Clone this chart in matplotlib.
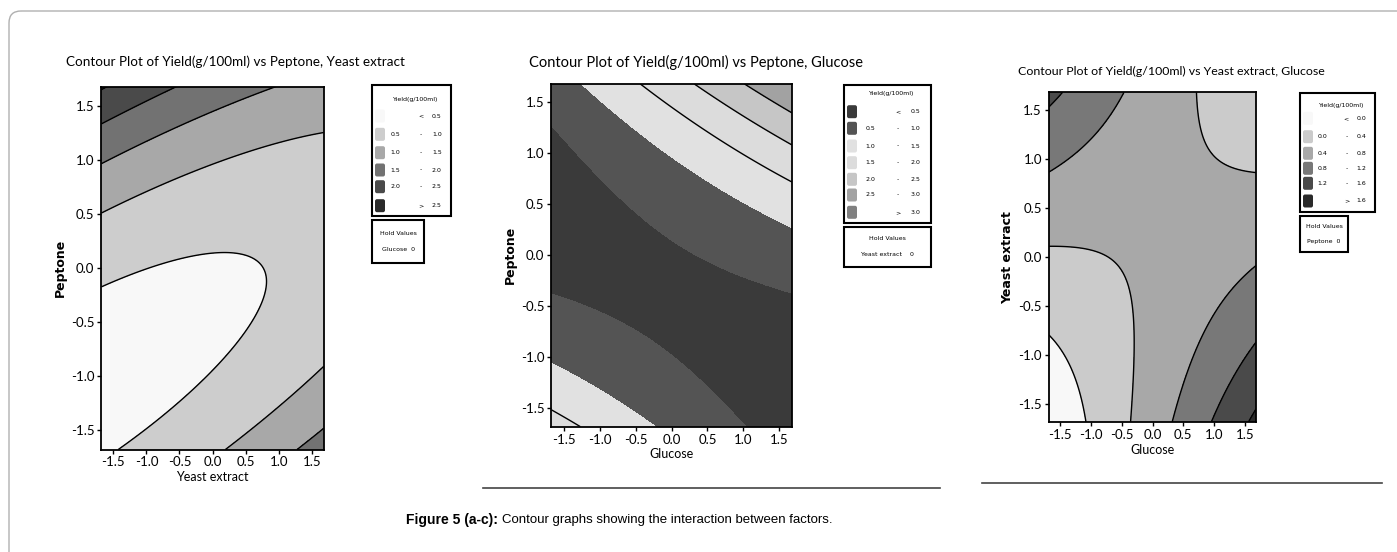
import numpy as np
import matplotlib
matplotlib.use("Agg")
from matplotlib import pyplot as plt
from matplotlib.patches import FancyBboxPatch, Rectangle

plt.rcParams['axes.unicode_minus'] = False
NARROW = ['Lato', 'DejaVu Sans']
SMALL = 'DejaVu Sans'

W, H = 1397, 552
LIM = 1.68
ticks = [-1.5, -1.0, -0.5, 0.0, 0.5, 1.0, 1.5]

# fitted second order model: b0, b1 (x), b2 (y), b11 (x^2), b22 (y^2), b12 (xy)
a_coef = [0.4584, 0.0110, 0.2578, 0.0565, 0.3185, -0.2186]   # x = yeast extract, y = peptone
b_coef = [0.4543, 0.1212, 0.2625, 0.0347, 0.3151, 0.3247]    # x = glucose, y = peptone
c_coef = [0.4738, 0.1232, 0.0076, 0.0282, 0.0520, -0.2801]   # x = glucose, y = yeast extract

a_levels = [0.5, 1.0, 1.5, 2.0, 2.5]
a_colors = ['#f8f8f8', '#cdcdcd', '#a8a8a8', '#727272', '#4a4a4a', '#2a2a2a']
b_levels = [0.5, 1.0, 1.5, 2.0, 2.5, 3.0]
b_colors = ['#3a3a3a', '#545454', '#e1e1e1', '#dcdcdc', '#c6c6c6', '#a2a2a2', '#808080']
c_levels = [0.0, 0.4, 0.8, 1.2, 1.6]
c_colors = ['#f8f8f8', '#cbcbcb', '#a8a8a8', '#787878', '#4a4a4a', '#2a2a2a']


def surface(c, X, Y):
    return c[0] + c[1] * X + c[2] * Y + c[3] * X * X + c[4] * Y * Y + c[5] * X * Y


def rect(l, t, r, b):
    return [l / W, 1 - b / H, (r - l) / W, (b - t) / H]


def panel(box, coefs, levels, colors, line_levels, xlabel, ylabel):
    ax = fig.add_axes(rect(*box))
    g = np.linspace(-LIM, LIM, 300)
    X, Y = np.meshgrid(g, g)
    Z = surface(coefs, X, Y)
    ax.contourf(X, Y, Z, levels=[-100] + levels + [100], colors=colors)
    ax.contour(X, Y, Z, levels=line_levels, colors='black', linewidths=1.0)
    ax.set_xlim(-LIM, LIM)
    ax.set_ylim(-LIM, LIM)
    ax.set_xticks(ticks)
    ax.set_yticks(ticks)
    ax.set_xticklabels(['%.1f' % t for t in ticks], family=NARROW, fontsize=9.5)
    ax.set_yticklabels(['%.1f' % t for t in ticks], family=NARROW, fontsize=9.5)
    ax.tick_params(direction='out', length=3, width=1, pad=2)
    for s in ax.spines.values():
        s.set_linewidth(1.3)
    ax.set_xlabel(xlabel, family=NARROW, fontsize=9, labelpad=2)
    ax.set_ylabel(ylabel, family='DejaVu Sans', fontsize=9, fontweight='bold', labelpad=3)
    return ax


def legend(x0, x1, y0, y1, hx1, hy1, levels, colors, rows_y, head_y, held, fmt='%.1f'):
    ov.add_patch(Rectangle((x0, y0), x1 - x0, y1 - y0, fc='white', ec='black', lw=1.5))
    ov.text((x0 + x1) / 2 + 4, head_y, 'Yield(g/100ml)', fontsize=4.5, family=SMALL, ha='center', va='center')
    n = len(colors)
    for i in range(n):
        yy = rows_y[i]
        ov.add_patch(FancyBboxPatch((x0 + 3, yy - 6.5), 10, 13, boxstyle='round,pad=0,rounding_size=2',
                                    fc=colors[i], ec='none'))
        if i == 0:
            ov.text(x0 + 0.62 * (x1 - x0), yy, '<', fontsize=4.5, family=SMALL, ha='center', va='center')
            ov.text(x0 + 0.82 * (x1 - x0), yy, fmt % levels[0], fontsize=4.5, family=SMALL, ha='center', va='center')
        elif i == n - 1:
            ov.text(x0 + 0.62 * (x1 - x0), yy, '>', fontsize=4.5, family=SMALL, ha='center', va='center')
            ov.text(x0 + 0.82 * (x1 - x0), yy, fmt % levels[-1], fontsize=4.5, family=SMALL, ha='center', va='center')
        else:
            ov.text(x0 + 0.30 * (x1 - x0), yy, fmt % levels[i - 1], fontsize=4.5, family=SMALL, ha='center', va='center')
            ov.text(x0 + 0.62 * (x1 - x0), yy, '-', fontsize=4.5, family=SMALL, ha='center', va='center')
            ov.text(x0 + 0.82 * (x1 - x0), yy, fmt % levels[i], fontsize=4.5, family=SMALL, ha='center', va='center')
    ov.add_patch(Rectangle((x0, y1 + 4), hx1 - x0, hy1 - y1 - 4, fc='white', ec='black', lw=1.5))
    hm = (y1 + 4 + hy1) / 2
    ov.text((x0 + hx1) / 2, hm - 8, 'Hold Values', fontsize=4.5, family=SMALL, ha='center', va='center')
    ov.text((x0 + hx1) / 2, hm + 8, held, fontsize=4.5, family=SMALL, ha='center', va='center')


fig = plt.figure(figsize=(W / 100, H / 100), dpi=100)
ov = fig.add_axes([0, 0, 1, 1])
ov.set_xlim(0, W)
ov.set_ylim(H, 0)
ov.axis('off')

# (a)
panel((101.4, 86.5, 323.7, 449.5), a_coef, a_levels, a_colors, a_levels, 'Yeast extract', 'Peptone')
ov.text(235, 62, 'Contour Plot of Yield(g/100ml) vs Peptone, Yeast extract', family=NARROW, fontsize=9.7,
        ha='center', va='center')
legend(372, 451, 85, 216, 424, 263, a_levels, a_colors,
       [116, 134.3, 152.7, 170, 186.7, 205.7], 99, 'Glucose  0')

# (b)
panel((551.4, 84, 791.9, 426.7), b_coef, b_levels, b_colors, [1.5, 2.0, 2.5, 3.0], 'Glucose', 'Peptone')
ov.text(696, 62, 'Contour Plot of Yield(g/100ml) vs Peptone, Glucose', family=NARROW, fontsize=10.5,
        ha='center', va='center')
legend(844, 931, 85, 223, 931, 267, b_levels, b_colors,
       [111.7, 128.3, 146, 162.7, 179.3, 195, 212.3], 94, 'Yeast extract    0')
ov.plot([483, 940], [488, 488], color='#444444', lw=1.2)

# (c)
panel((1048.9, 92.3, 1256.1, 422), c_coef, c_levels, c_colors, c_levels, 'Glucose', 'Yeast extract')
ov.text(1171, 71, 'Contour Plot of Yield(g/100ml) vs Yeast extract, Glucose', family=NARROW, fontsize=8.9,
        ha='center', va='center')
legend(1300, 1375, 93, 212, 1348, 252, c_levels, c_colors,
       [118.3, 136.7, 153.3, 168.3, 183.3, 201], 105, 'Peptone  0')
ov.plot([982, 1382], [483, 483], color='#444444', lw=1.2)

# frame and caption
ov.add_patch(FancyBboxPatch((9, 11), 1430, 600, boxstyle='round,pad=0,rounding_size=12',
                            fc='none', ec='#b0b0b0', lw=1))
t1 = ov.text(406, 520, 'Figure 5 (a-c):', family='Liberation Sans', fontweight='bold', fontsize=10,
             va='center', ha='left')
fig.canvas.draw()
bb = t1.get_window_extent()
x_end = ov.transData.inverted().transform((bb.x1, bb.y0))[0]
ov.text(x_end + 4, 520, 'Contour graphs showing the interaction between factors.', family='Liberation Sans',
        fontsize=9.5, va='center', ha='left')

fig.savefig('out.png', dpi=100)
